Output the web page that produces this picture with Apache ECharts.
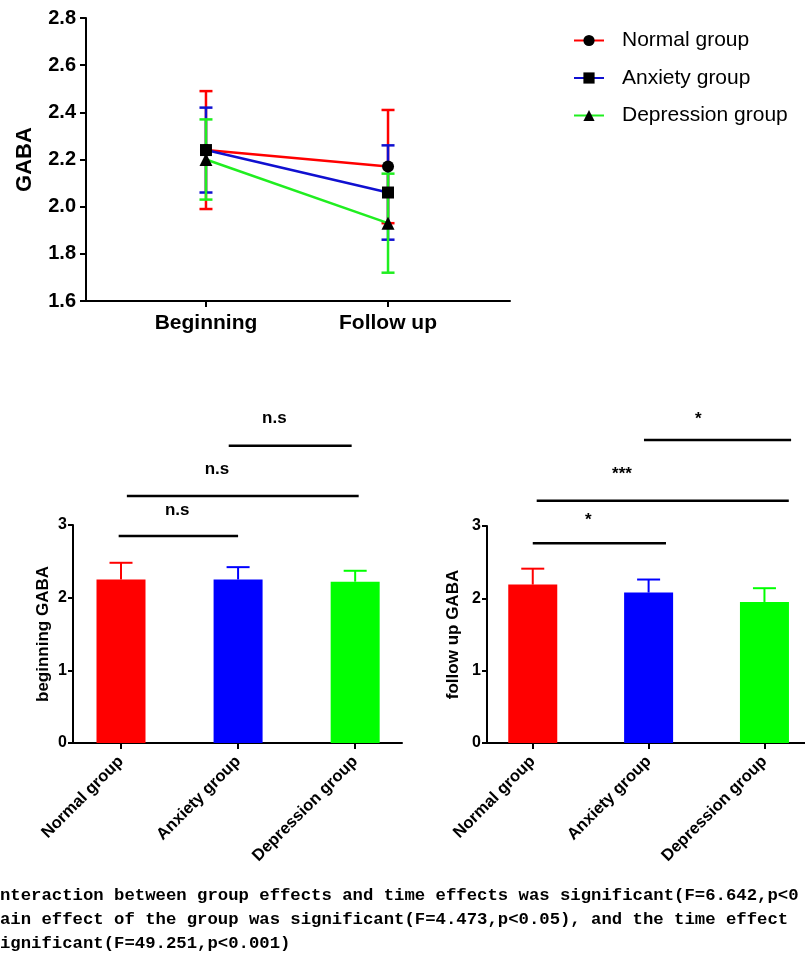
<!DOCTYPE html>
<html><head><meta charset="utf-8">
<script src="https://cdn.jsdelivr.net/npm/echarts@6/dist/echarts.min.js"></script>
<style>html,body{margin:0;padding:0;background:#fff}#c{width:805px;height:958px}</style>
</head><body><div id="c"></div>
<script>
// ---------- data ----------
const timepoints = ['Beginning', 'Follow up'];
const groups = ['Normal group', 'Anxiety group', 'Depression group'];

const normalMean = [2.24, 2.17];
const normalSD = [0.25, 0.24];
const anxietyMean = [2.24, 2.06];
const anxietySD = [0.18, 0.20];
const depressionMean = [2.20, 1.93];
const depressionSD = [0.17, 0.21];

const beginningMean = [2.25, 2.25, 2.22];
const beginningSD = [0.23, 0.17, 0.15];
const followMean = [2.19, 2.08, 1.95];
const followSD = [0.22, 0.18, 0.19];

const topTicks = [1.6, 2.8, 0.2];
const barTicks = [0, 3, 1];

// significance brackets (data units)
const beginSigText = ['n.s', 'n.s', 'n.s'];
const beginSigFrom = [-0.02, 0.05, 0.92];
const beginSigTo = [1.0, 2.03, 1.97];
const beginSigLevel = [2.85, 3.40, 4.09];
const beginSigTextX = [0.48, 0.82, 1.31];
const beginSigTextY = [3.20, 3.77, 4.47];

const followSigText = ['*', '***', '*'];
const followSigFrom = [0.0, 0.034, 0.96];
const followSigTo = [1.15, 2.21, 2.23];
const followSigLevel = [2.76, 3.35, 4.19];
const followSigTextX = [0.48, 0.77, 1.43];
const followSigTextY = [3.08, 3.72, 4.48];

const footnote = [
  'nteraction between group effects and time effects was significant(F=6.642,p<0',
  'ain effect of the group was significant(F=4.473,p<0.05), and the time effect',
  'ignificant(F=49.251,p<0.001)'
];

// ---------- styles ----------
const FONT = '"Liberation Sans", Arial, sans-serif';
const groupColors = ['#ff0000', '#0000ff', '#00ff00'];
const lineColors = ['#ff0000', '#1010d0', '#20ee20'];
const symbols = ['circle', 'rect', 'triangle'];
const axisLine = { show: true, onZero: false, lineStyle: { color: '#000', width: 2 } };

const chart = echarts.init(document.getElementById('c'));

function errSeries(xi, yi, pts, color, cap, full, lw) {
  return {
    type: 'custom', xAxisIndex: xi, yAxisIndex: yi, silent: true, clip: false,
    data: pts,
    renderItem(params, api) {
      const x = api.value(0), lo = api.value(1), hi = api.value(2);
      const t = api.coord([x, hi]), b = api.coord([x, lo]);
      const st = { stroke: color, lineWidth: lw };
      const ch = [
        { type: 'line', shape: { x1: t[0], y1: t[1], x2: b[0], y2: b[1] }, style: st },
        { type: 'line', shape: { x1: t[0] - cap / 2, y1: t[1], x2: t[0] + cap / 2, y2: t[1] }, style: st }
      ];
      if (full) ch.push({ type: 'line', shape: { x1: b[0] - cap / 2, y1: b[1], x2: b[0] + cap / 2, y2: b[1] }, style: st });
      return { type: 'group', children: ch };
    }
  };
}

function sigSeries(xi, yi, text, from, to, level, tx, ty) {
  return {
    type: 'custom', xAxisIndex: xi, yAxisIndex: yi, silent: true, clip: false,
    data: text.map((s, i) => [from[i], to[i], level[i], tx[i], ty[i]]),
    renderItem(params, api) {
      const a = api.coord([api.value(0), api.value(2)]);
      const b = api.coord([api.value(1), api.value(2)]);
      const t = api.coord([api.value(3), api.value(4)]);
      return {
        type: 'group', children: [
          { type: 'line', shape: { x1: a[0], y1: a[1], x2: b[0], y2: b[1] }, style: { stroke: '#000', lineWidth: 2.5 } },
          { type: 'text', x: t[0], y: t[1], style: { text: text[params.dataIndex], fill: '#000', font: 'bold 17px ' + FONT, align: 'center', verticalAlign: 'middle' } }
        ]
      };
    }
  };
}

const lineMeans = [normalMean, anxietyMean, depressionMean];
const lineSDs = [normalSD, anxietySD, depressionSD];

const series = [];
lineMeans.forEach((m, g) => {
  series.push(errSeries(0, 0, m.map((v, i) => [i + 1, v - lineSDs[g][i], v + lineSDs[g][i]]), lineColors[g], 13, true, 2.5));
});
lineMeans.forEach((m, g) => {
  series.push({
    type: 'line', name: groups[g], xAxisIndex: 0, yAxisIndex: 0,
    data: m.map((v, i) => [i + 1, v]),
    symbol: symbols[g], symbolSize: g === 2 ? 13 : 12,
    lineStyle: { color: lineColors[g], width: 2.5 },
    itemStyle: { color: '#000' },
    z: 3
  });
});

function barSeries(xi, yi, means) {
  return {
    type: 'bar', xAxisIndex: xi, yAxisIndex: yi, barWidth: 49, silent: true,
    data: means.map((v, i) => ({ value: [i, v], itemStyle: { color: groupColors[i] } }))
  };
}
series.push(barSeries(1, 1, beginningMean));
beginningMean.forEach((v, i) => series.push(errSeries(1, 1, [[i, v, v + beginningSD[i]]], groupColors[i], 23, false, 2)));
series.push(sigSeries(1, 1, beginSigText, beginSigFrom, beginSigTo, beginSigLevel, beginSigTextX, beginSigTextY));

series.push(barSeries(2, 2, followMean));
followMean.forEach((v, i) => series.push(errSeries(2, 2, [[i, v, v + followSD[i]]], groupColors[i], 23, false, 2)));
series.push(sigSeries(2, 2, followSigText, followSigFrom, followSigTo, followSigLevel, followSigTextX, followSigTextY));

const catIdx = [0, 1, 2];
function barX(gi, min, max) {
  return {
    gridIndex: gi, type: 'value', min: min, max: max,
    axisLine: axisLine,
    axisTick: { show: true, customValues: catIdx, length: 6, lineStyle: { color: '#000', width: 2 } },
    axisLabel: { customValues: catIdx, formatter: v => groups[Math.round(v)], rotate: 45, margin: 16, fontSize: 16.5, fontWeight: 'bold', color: '#000', fontFamily: FONT },
    splitLine: { show: false }
  };
}
function barY(gi, name, gap) {
  return {
    gridIndex: gi, type: 'value', min: barTicks[0], max: barTicks[1], interval: barTicks[2],
    axisLine: axisLine,
    axisTick: { show: true, length: 5, lineStyle: { color: '#000', width: 2 } },
    axisLabel: { margin: 6, fontSize: 16, fontWeight: 'bold', color: '#000', fontFamily: FONT },
    splitLine: { show: false },
    name: name, nameLocation: 'middle', nameGap: gap,
    nameTextStyle: { fontSize: 17, fontWeight: 'bold', color: '#000', fontFamily: FONT }
  };
}

chart.setOption({
  animation: false,
  backgroundColor: '#fff',
  textStyle: { fontFamily: FONT },
  grid: [
    { left: 86, top: 18, width: 424, height: 283 },
    { left: 73, top: 525, width: 329, height: 218 },
    { left: 487, top: 526, width: 320, height: 217 }
  ],
  legend: {
    data: groups, orient: 'vertical', left: 573, top: 30, padding: 0,
    itemWidth: 30, itemHeight: 14, itemGap: 16.5,
    textStyle: { fontSize: 21, color: '#000', fontFamily: FONT, padding: [0, 0, 0, 13] }
  },
  xAxis: [
    {
      gridIndex: 0, type: 'value', min: 0.341, max: 2.67,
      axisLine: axisLine,
      axisTick: { show: true, customValues: [1, 2], length: 6, lineStyle: { color: '#000', width: 2 } },
      axisLabel: { customValues: [1, 2], formatter: v => timepoints[Math.round(v) - 1], margin: 12, fontSize: 21, fontWeight: 'bold', color: '#000', fontFamily: FONT },
      splitLine: { show: false }
    },
    barX(1, -0.41, 2.40),
    barX(2, -0.395, 2.35)
  ],
  yAxis: [
    {
      gridIndex: 0, type: 'value', min: topTicks[0], max: topTicks[1], interval: topTicks[2],
      axisLine: axisLine,
      axisTick: { show: true, length: 6, lineStyle: { color: '#000', width: 2 } },
      axisLabel: { formatter: v => v.toFixed(1), margin: 10, fontSize: 20, fontWeight: 'bold', color: '#000', fontFamily: FONT },
      splitLine: { show: false },
      name: 'GABA', nameLocation: 'middle', nameGap: 50,
      nameTextStyle: { fontSize: 22, fontWeight: 'bold', color: '#000', fontFamily: FONT }
    },
    barY(1, 'beginning GABA', 21),
    barY(2, 'follow up GABA', 25)
  ],
  graphic: footnote.map((t, i) => ({
    type: 'text', x: 0, y: 896 + i * 24,
    style: { text: t, fill: '#000', font: 'bold 17.3px "Liberation Mono", monospace', verticalAlign: 'middle' }
  })),
  series: series
});
</script></body></html>
